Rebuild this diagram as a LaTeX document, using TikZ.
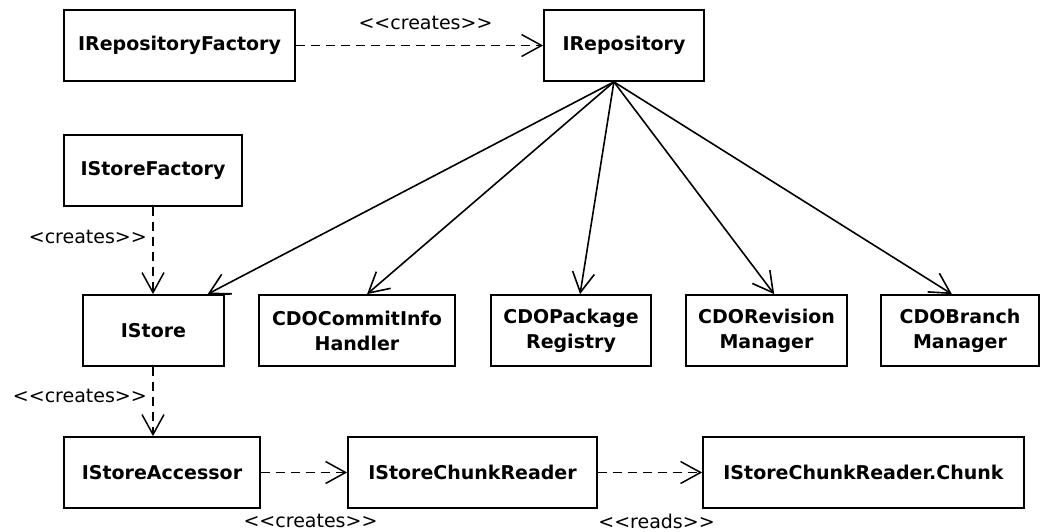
\documentclass[tikz,border=0pt]{standalone}
\usepackage{fontspec}
\setmainfont{DejaVu Sans}
\usetikzlibrary{arrows.meta,calc}

% angle-bracket pairs kept as separate glyphs (no guillemet ligature)
\newcommand\lquo{<\kern0pt<}
\newcommand\rquo{>\kern0pt>}

\begin{document}
\begin{tikzpicture}[
  x=1pt, y=-1pt,
  classbox/.style={draw=black, line width=1.8pt, fill=white, rectangle,
    inner sep=0pt, minimum height=71pt, align=center,
    font=\fontsize{19}{25}\selectfont\bfseries},
  assoc/.style={line width=1.6pt, -{Straight Barb[length=20pt,width=22pt,line width=1.6pt]}},
  depend/.style={line width=1.5pt, dash pattern=on 9pt off 6pt,
    -{Straight Barb[length=20pt,width=22pt,line width=1.5pt,sep=0pt]}},
  stereo/.style={inner sep=0pt, font=\fontsize{19}{23}\selectfont}
]
\useasboundingbox (0,0) rectangle (1040,532);

% top row
\node[classbox, minimum width=231pt] (irf)    at (179.5,45.5) {IRepositoryFactory};
\node[classbox, minimum width=160pt] (irepo)  at (624,45.5)   {IRepository};

% store factory
\node[classbox, minimum width=178pt] (isf)    at (153,170.5)  {IStoreFactory};

% middle row
\node[classbox, minimum width=141pt] (istore) at (153.5,330.5) {IStore};
\node[classbox, minimum width=196pt] (commit) at (357,330.5)   {CDOCommitInfo\\Handler};
\node[classbox, minimum width=160pt] (pkg)    at (571,330.5)   {CDOPackage\\Registry};
\node[classbox, minimum width=161pt] (rev)    at (766.5,330.5) {CDORevision\\Manager};
\node[classbox, minimum width=158pt] (branch) at (960,330.5)   {CDOBranch\\Manager};
\draw[line width=1.8pt] (istore.north east) -- ++(5,0);

% bottom row
\node[classbox, minimum width=196pt] (acc)    at (162,472.5)   {IStoreAccessor};
\node[classbox, minimum width=249pt] (reader) at (472.5,472.5) {IStoreChunkReader};
\node[classbox, minimum width=321pt] (chunk)  at (863.5,472.5) {IStoreChunkReader.Chunk};

% associations fanning out of IRepository
\coordinate (hub) at ($(irepo.south west)!0.4375!(irepo.south east)$);
\draw[assoc] (hub) -- ($(istore.north west)!0.879!(istore.north east)$);
\draw[assoc] (hub) -- ($(commit.north west)!0.551!(commit.north east)$);
\draw[assoc] (hub) -- ($(pkg.north west)!0.556!(pkg.north east)$);
\draw[assoc] (hub) -- ($(rev.north west)!0.547!(rev.north east)$);
\draw[assoc] (hub) -- ($(branch.north west)!0.449!(branch.north east)$);

% dependencies
\draw[depend] (irf.east) -- (irf.east -| irepo.west);
\node[stereo] (l1) at (425.5,23) {\lquo creates\rquo};

\draw[depend] (isf.south) -- (isf.south |- istore.north);
\node[stereo, anchor=east] (l2) at (147,237) {<creates\rquo};

\draw[depend] (isf.south |- istore.south) -- (isf.south |- acc.north);
\node[stereo, anchor=east] (l3) at (147,396) {\lquo creates\rquo};

\draw[depend] (acc.east) -- (reader.west);
\node[stereo] (l4) at (310.5,521) {\lquo creates\rquo};

\draw[depend] (reader.east) -- (chunk.west);
\node[stereo] (l5) at (656.5,521) {\lquo reads\rquo};
\end{tikzpicture}
\end{document}
